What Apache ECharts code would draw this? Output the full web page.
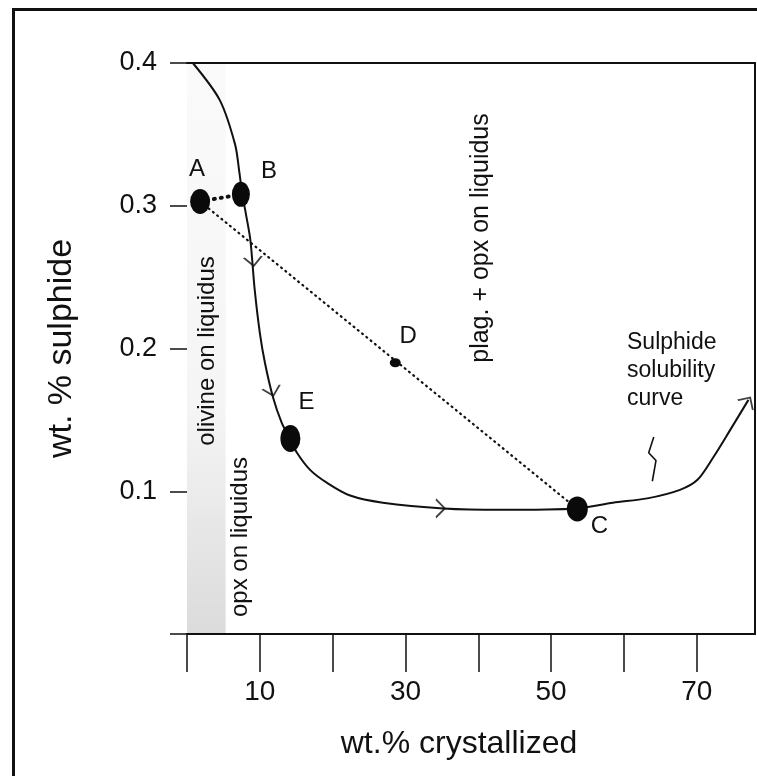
<!DOCTYPE html>
<html>
<head>
<meta charset="utf-8">
<script src="https://cdn.jsdelivr.net/npm/echarts@6/dist/echarts.min.js"></script>
<style>
  html, body { margin: 0; background: #fff; }
  #chart { width: 757px; height: 776px; }
</style>
</head>
<body>
<div id="chart"></div>
<script>
// sulphide solubility curve (wt.% crystallized vs wt.% sulphide)
const curveX = [0.8, 4.5, 6.6, 7.2, 7.6, 8.1, 8.7, 9.3, 10.0, 10.7, 11.8, 13.0, 14.1, 15.1, 16.9, 19.2, 22.4, 26.9, 35.2, 43.0, 53.6, 58.5, 63.2, 67.7, 70.1, 72.3, 74.6, 77.1];
const curveY = [0.400, 0.374, 0.343, 0.323, 0.308, 0.294, 0.276, 0.241, 0.211, 0.190, 0.166, 0.148, 0.137, 0.127, 0.115, 0.106, 0.097, 0.092, 0.088, 0.087, 0.088, 0.092, 0.095, 0.101, 0.108, 0.124, 0.143, 0.164];

// labelled points
const pointNames = ['A', 'B', 'E', 'D', 'C'];
const pointX = [1.8, 7.4, 14.2, 28.6, 53.6];
const pointY = [0.303, 0.308, 0.137, 0.190, 0.0876];

// direction arrows on the curve (angle in degrees)
const arrowX = [9.1, 11.7, 34.8, 77.0];
const arrowY = [0.261, 0.170, 0.088, 0.163];
const arrowAngle = [-174, -165, -90, -33];

// little break mark under "Sulphide solubility curve"
const breakX = [64.1, 63.4, 64.4, 63.9];
const breakY = [0.138, 0.127, 0.1215, 0.107];

const xTicks = [0, 10, 20, 30, 40, 50, 60, 70];
const xLabelled = [10, 30, 50, 70];
const yLabelled = [0.1, 0.2, 0.3, 0.4];
const olivineBand = [0, 5.3];

const FONT = 'Liberation Sans, Arial, sans-serif';

// label offsets and dot sizes, by point name
const pointStyle = {
  A: { size: [20, 25], offset: [-3, -32] },
  B: { size: [18, 25], offset: [28, -23] },
  E: { size: [20, 27], offset: [16, -36] },
  D: { size: [11, 9], offset: [13, -26] },
  C: { size: [21, 25], offset: [22, 17] }
};

const chart = echarts.init(document.getElementById('chart'));

const idx = name => pointNames.indexOf(name);
const pt = name => [pointX[idx(name)], pointY[idx(name)]];

const option = {
  backgroundColor: '#fff',
  animation: false,
  grid: { left: 187, right: 2, top: 63, bottom: 142 },
  xAxis: [
    {
      type: 'value', min: 0, max: 78, interval: 10,
      axisLine: { show: true, onZero: false, lineStyle: { color: '#111', width: 2 } },
      axisTick: { show: true, inside: false, length: 38, customValues: xTicks, lineStyle: { color: '#111', width: 1.5 } },
      axisLabel: {
        margin: 44, fontSize: 28, color: '#111', fontFamily: FONT,
        customValues: xLabelled,
        formatter: v => String(v)
      },
      splitLine: { show: false },
      name: 'wt.% crystallized', nameLocation: 'middle', nameGap: 94,
      nameTextStyle: { fontSize: 32, color: '#111', fontFamily: FONT, padding: [0, 24, 0, 0] }
    },
    {
      type: 'value', min: 0, max: 78, position: 'top',
      axisLine: { show: true, onZero: false, lineStyle: { color: '#111', width: 2 } },
      axisTick: { show: false }, axisLabel: { show: false }, splitLine: { show: false }
    }
  ],
  yAxis: [
    {
      type: 'value', min: 0, max: 0.4, interval: 0.1,
      axisLine: { show: false, onZero: false },
      axisTick: { show: true, length: 17, lineStyle: { color: '#111', width: 1.5 } },
      axisLabel: {
        margin: 30, fontSize: 27, color: '#111', fontFamily: FONT,
        formatter: v => {
          const r = Math.round(v * 10) / 10;
          return yLabelled.indexOf(r) >= 0 ? r.toFixed(1) : '';
        }
      },
      splitLine: { show: false },
      name: 'wt. % sulphide', nameLocation: 'middle', nameGap: 108, nameRotate: 90,
      nameTextStyle: { fontSize: 34, color: '#111', fontFamily: FONT }
    },
    {
      type: 'value', min: 0, max: 0.4, position: 'right',
      axisLine: { show: true, onZero: false, lineStyle: { color: '#111', width: 2 } },
      axisTick: { show: false }, axisLabel: { show: false }, splitLine: { show: false }
    }
  ],
  series: [
    {
      // curve + stippled band where olivine / opx are on the liquidus
      type: 'line',
      data: curveX.map((x, i) => [x, curveY[i]]),
      smooth: 0.3,
      showSymbol: false,
      lineStyle: { color: '#111', width: 2 },
      markArea: {
        silent: true,
        itemStyle: {
          color: new echarts.graphic.LinearGradient(0, 0, 0, 1, [
            { offset: 0, color: 'rgba(0,0,0,0.02)' },
            { offset: 0.6, color: 'rgba(0,0,0,0.04)' },
            { offset: 1, color: 'rgba(0,0,0,0.14)' }
          ])
        },
        data: [[{ xAxis: olivineBand[0] }, { xAxis: olivineBand[1] }]]
      },
      z: 3
    },
    {
      // A - C tie line through D
      type: 'line',
      data: [pt('A'), pt('C')],
      showSymbol: false,
      lineStyle: { color: '#111', width: 2.2, type: [1, 4.5], cap: 'round' },
      z: 2
    },
    {
      // A - B
      type: 'line',
      data: [pt('A'), pt('B')],
      showSymbol: false,
      lineStyle: { color: '#111', width: 4, type: [1, 6], cap: 'round' },
      z: 2
    },
    {
      type: 'line',
      data: breakX.map((x, i) => [x, breakY[i]]),
      showSymbol: false,
      lineStyle: { color: '#111', width: 1.6 },
      z: 3
    },
    {
      // direction chevrons
      type: 'scatter',
      data: arrowX.map((x, i) => [x, arrowY[i], arrowAngle[i]]),
      symbol: 'path://M0,10 L8,0 L16,10',
      symbolSize: [18, 9],
      symbolRotate: v => v[2],
      itemStyle: { color: 'none', borderColor: '#111', borderWidth: 1.6 },
      z: 4
    },
    {
      type: 'scatter',
      data: pointNames.map((n, i) => ({
        name: n,
        value: [pointX[i], pointY[i]],
        symbolSize: pointStyle[n].size,
        label: { offset: pointStyle[n].offset }
      })),
      symbol: 'circle',
      itemStyle: { color: '#0a0a0a', opacity: 1 },
      label: {
        show: true, position: 'inside', formatter: '{b}',
        fontSize: 24, color: '#111', fontFamily: FONT
      },
      z: 5
    }
  ],
  graphic: [
    {
      type: 'rect', left: 11, top: 7, silent: true,
      shape: { width: 780, height: 800 },
      style: { fill: 'none', stroke: '#111', lineWidth: 3 }
    },
    {
      type: 'text', x: 207, y: 351, rotation: Math.PI / 2,
      style: { text: 'olivine on liquidus', font: '24px ' + FONT, fill: '#111', align: 'center', verticalAlign: 'middle' }
    },
    {
      type: 'text', x: 240, y: 537, rotation: Math.PI / 2,
      style: { text: 'opx on liquidus', font: '24px ' + FONT, fill: '#111', align: 'center', verticalAlign: 'middle' }
    },
    {
      type: 'text', x: 481, y: 238, rotation: Math.PI / 2,
      style: { text: 'plag. + opx on liquidus', font: '25px ' + FONT, fill: '#111', align: 'center', verticalAlign: 'middle' }
    },
    {
      type: 'text', x: 627, y: 329,
      style: { text: 'Sulphide\nsolubility\ncurve', font: '23px ' + FONT, lineHeight: 28, fill: '#111', align: 'left', verticalAlign: 'top' }
    }
  ]
};

chart.setOption(option);
</script>
</body>
</html>
